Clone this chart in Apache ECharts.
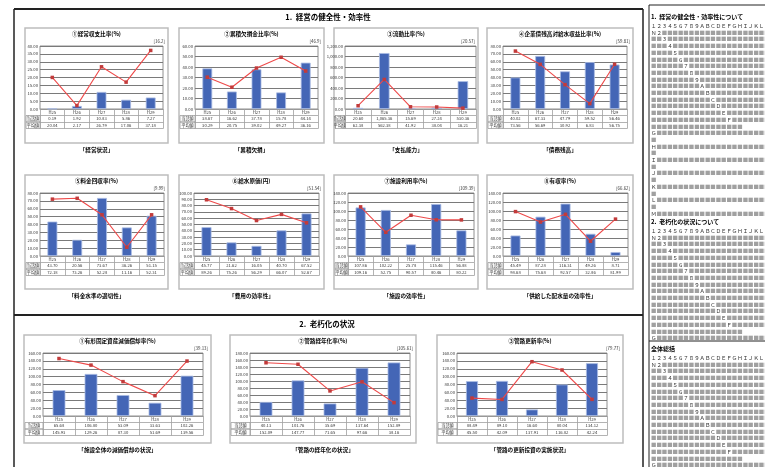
<!DOCTYPE html>
<html>
<head>
<meta charset="utf-8">
<script src="https://cdn.jsdelivr.net/npm/echarts@6/dist/echarts.min.js"></script>
<style>
html, body { margin: 0; padding: 0; background: #fff; }
#main { width: 765px; height: 467px; }
</style>
</head>
<body>
<div id="main"></div>
<script>
var years = ['H25', 'H26', 'H27', 'H28', 'H29'];
var rowNames = ['当該値', '平均値'];

// 1. 経営の健全性・効率性
var keijoVal = [0.19, 1.92, 10.83, 5.86, 7.27];
var keijoAvg = [20.04, 2.17, 26.79, 17.06, 37.18];
var ruisekiVal = [38.67, 16.62, 37.78, 15.78, 44.14];
var ruisekiAvg = [30.29, 20.75, 39.02, 49.27, 36.16];
var ryudoVal = [20.60, 1065.36, 15.69, 27.24, 530.36];
var ryudoAvg = [62.38, 562.38, 41.92, 38.04, 16.21];
var kigyosaiVal = [40.02, 67.33, 47.79, 59.52, 56.46];
var kigyosaiAvg = [73.56, 56.69, 30.92, 6.83, 56.75];
var ryokinVal = [43.70, 20.56, 73.67, 36.26, 51.15];
var ryokinAvg = [72.18, 73.26, 52.28, 11.16, 52.31];
var kyusuiVal = [45.77, 21.62, 16.05, 40.70, 67.52];
var kyusuiAvg = [89.26, 75.26, 56.29, 66.07, 52.67];
var shisetsuVal = [107.86, 102.22, 25.78, 115.46, 56.88];
var shisetsuAvg = [109.16, 52.75, 90.57, 80.46, 80.22];
var yushuVal = [45.49, 87.28, 116.31, 49.26, 8.71];
var yushuAvg = [98.68, 75.68, 92.57, 32.86, 81.99];

// 2. 老朽化の状況
var shokyakuVal = [65.68, 106.80, 53.09, 33.63, 102.26];
var shokyakuAvg = [145.93, 129.26, 87.30, 51.69, 139.56];
var keinenVal = [40.13, 101.76, 35.69, 137.64, 152.89];
var keinenAvg = [152.09, 147.77, 71.65, 97.66, 38.16];
var koshinVal = [88.49, 89.10, 16.60, 80.04, 134.12];
var koshinAvg = [45.50, 42.09, 137.91, 116.82, 42.24];

var FONT = '"Noto Sans CJK JP", "Noto Sans", sans-serif';

var charts = [
    {title: '①経常収支比率(%)', caption: '「経営状況」', note: '[16.2]', val: keijoVal, avg: keijoAvg, max: 40, step: 5, box: [25, 28, 143, 115], gl: 15, gr: 5},
    {title: '②累積欠損金比率(%)', caption: '「累積欠損」', note: '[46.9]', val: ruisekiVal, avg: ruisekiAvg, max: 60, step: 10, box: [179, 28, 145, 115], gl: 16, gr: 6},
    {title: '③流動比率(%)', caption: '「支払能力」', note: '[20.57]', val: ryudoVal, avg: ryudoAvg, max: 1200, step: 200, box: [334, 28, 144, 115], gl: 11, gr: 2},
    {title: '④企業債残高対給水収益比率(%)', caption: '「債務残高」', note: '[59.81]', val: kigyosaiVal, avg: kigyosaiAvg, max: 80, step: 10, box: [487, 28, 146, 115], gl: 16, gr: 6},
    {title: '⑤料金回収率(%)', caption: '「料金水準の適切性」', note: '[9.99]', val: ryokinVal, avg: ryokinAvg, max: 80, step: 10, box: [25, 175, 143, 114], gl: 15, gr: 4},
    {title: '⑥給水原価(円)', caption: '「費用の効率性」', note: '[51.54]', val: kyusuiVal, avg: kyusuiAvg, max: 100, step: 10, box: [179, 175, 145, 114], gl: 15, gr: 5},
    {title: '⑦施設利用率(%)', caption: '「施設の効率性」', note: '[109.39]', val: shisetsuVal, avg: shisetsuAvg, max: 140, step: 20, box: [334, 175, 144, 114], gl: 14, gr: 4},
    {title: '⑧有収率(%)', caption: '「供給した配水量の効率性」', note: '[66.62]', val: yushuVal, avg: yushuAvg, max: 140, step: 20, box: [487, 175, 146, 114], gl: 16, gr: 5},
    {title: '①有形固定資産減価償却率(%)', caption: '「施設全体の減価償却の状況」', note: '[39.13]', val: shokyakuVal, avg: shokyakuAvg, max: 160, step: 20, box: [24, 335, 187, 108], gl: 19, gr: 8},
    {title: '②管路経年化率(%)', caption: '「管路の経年化の状況」', note: '[105.61]', val: keinenVal, avg: keinenAvg, max: 180, step: 20, box: [230, 335, 186, 108], gl: 20, gr: 6},
    {title: '③管路更新率(%)', caption: '「管路の更新投資の実施状況」', note: '[79.77]', val: koshinVal, avg: koshinAvg, max: 160, step: 20, box: [437, 335, 186, 108], gl: 20, gr: 16}
];

function fmt(v) {
    return Number(v).toLocaleString('en-US', {minimumFractionDigits: 2, maximumFractionDigits: 2});
}

var grids = [], xAxes = [], yAxes = [], series = [], graphics = [];
var rowH = 6.5, plotH = 63;

charts.forEach(function (c, i) {
    var bx = c.box[0], by = c.box[1], bw = c.box[2], bh = c.box[3];
    var top = by + 18, bottom = top + plotH;
    grids.push({
        left: bx + c.gl, top: top, width: bw - c.gl - c.gr, height: plotH,
        show: true, borderColor: '#909090', borderWidth: 1
    });
    var rows = [years, c.val.map(fmt), c.avg.map(fmt), years];
    rows.forEach(function (d, k) {
        xAxes.push({
            gridIndex: i, type: 'category', data: d, position: 'bottom', offset: k * rowH,
            axisLine: {show: true, lineStyle: {color: '#a0a0a0', width: 0.8}},
            axisTick: {show: k < 3, length: rowH, interval: 0, lineStyle: {color: '#a0a0a0', width: 0.8}},
            axisLabel: {show: k < 3, interval: 0, fontSize: 4.2, margin: 1.3, color: '#333', fontFamily: FONT},
            splitLine: {show: false}
        });
    });
    yAxes.push({
        gridIndex: i, type: 'value', min: 0, max: c.max, interval: c.step,
        axisLine: {show: false}, axisTick: {show: false},
        axisLabel: {fontSize: 4.2, margin: 2, color: '#333', fontFamily: FONT, formatter: fmt},
        splitLine: {lineStyle: {color: '#7a7a7a', width: 1}}
    });
    series.push({
        type: 'bar', xAxisIndex: i * 4, yAxisIndex: i, data: c.val, barWidth: '40%',
        itemStyle: {color: '#4466b6', borderColor: '#a9bbe3', borderWidth: 0.8}
    });
    series.push({
        type: 'line', xAxisIndex: i * 4, yAxisIndex: i, data: c.avg,
        symbol: 'rect', symbolSize: 3.5,
        lineStyle: {color: '#ee4a4a', width: 1.1},
        itemStyle: {color: '#c23b3b'}
    });

    // chart frame, titles and table row names
    graphics.push({type: 'rect', shape: {x: bx, y: by, width: bw, height: bh},
        style: {fill: null, stroke: '#bdbdbd', lineWidth: 1.5}});
    graphics.push({type: 'text', x: bx + bw / 2, y: by + 6,
        style: {text: c.title, fontSize: 5.6, fontWeight: 'bold', fontFamily: FONT, fill: '#000', align: 'center', verticalAlign: 'middle'}});
    graphics.push({type: 'text', x: bx + bw - 3, y: by + 13,
        style: {text: c.note, fontSize: 4.4, fontFamily: FONT, fill: '#333', align: 'right', verticalAlign: 'middle'}});
    graphics.push({type: 'text', x: bx + bw / 2, y: by + bh + 7,
        style: {text: c.caption, fontSize: 5.6, fontWeight: 'bold', fontFamily: FONT, fill: '#000', align: 'center', verticalAlign: 'middle'}});
    rowNames.forEach(function (n, k) {
        var ry = bottom + rowH * (k + 1);
        graphics.push({type: 'rect', shape: {x: bx + 1, y: ry, width: c.gl - 1, height: rowH},
            style: {fill: null, stroke: '#a0a0a0', lineWidth: 0.8}});
        graphics.push({type: 'text', x: bx + 1 + (c.gl - 1) / 2, y: ry + rowH / 2,
            style: {text: n, fontSize: 4.2, fontFamily: FONT, fill: '#333', align: 'center', verticalAlign: 'middle'}});
    });
});

// outer frame and section headers
graphics.push({type: 'line', shape: {x1: 14, y1: 9, x2: 643, y2: 9}, style: {stroke: '#222', lineWidth: 2}});
graphics.push({type: 'line', shape: {x1: 14, y1: 9, x2: 14, y2: 467}, style: {stroke: '#222', lineWidth: 1.5}});
graphics.push({type: 'line', shape: {x1: 643, y1: 9, x2: 643, y2: 467}, style: {stroke: '#222', lineWidth: 1.5}});
graphics.push({type: 'line', shape: {x1: 14, y1: 315, x2: 643, y2: 315}, style: {stroke: '#222', lineWidth: 2}});
graphics.push({type: 'text', x: 328, y: 17,
    style: {text: '1.  経営の健全性・効率性', fontSize: 7.5, fontWeight: 'bold', fontFamily: FONT, fill: '#000', align: 'center', verticalAlign: 'middle'}});
graphics.push({type: 'text', x: 327, y: 324,
    style: {text: '2.  老朽化の状況', fontSize: 7.5, fontWeight: 'bold', fontFamily: FONT, fill: '#000', align: 'center', verticalAlign: 'middle'}});

// right comment panel (placeholder text)
var CH = 5.4, LH = 6.7;
var digits = '１２３４５６７８９ＡＢＣＤＥＦＧＨＩＪＫＬ';
var stepChars = '３４５６７８９ＡＢＣＤＥＦ';
function boxes(n) { return n > 0 ? '{b|' + '■'.repeat(n) + '}' : ''; }
function panelLines(full) {
    var lines = ['{c|' + digits + '}', '{c|Ｎ２}' + boxes(20)];
    for (var k = 0; k < stepChars.length; k++) {
        lines.push(boxes(k + 2) + '{c|' + stepChars[k] + '}' + boxes(19 - k));
    }
    lines.push(boxes(17));
    lines.push('{c|Ｇ}' + boxes(21));
    if (full) {
        lines.push(boxes(1));
        'ＨＩＪＫＬ'.split('').forEach(function (ch) {
            lines.push('{c|' + ch + '}' + boxes(21));
            lines.push(boxes(1));
        });
        lines.push('{c|Ｍ}' + boxes(21));
    }
    return lines;
}
function addPanel(head, y0, full) {
    graphics.push({type: 'text', x: 651, y: y0,
        style: {text: head, fontSize: 6, fontWeight: 'bold', fontFamily: FONT, fill: '#000', verticalAlign: 'middle'}});
    panelLines(full).forEach(function (t, k) {
        graphics.push({type: 'text', x: 651, y: y0 + 9 + k * LH,
            style: {text: t, fontSize: CH, fontFamily: FONT, verticalAlign: 'middle',
                rich: {b: {fontSize: CH, fontFamily: FONT, fill: '#a0a0a0'}, c: {fontSize: CH, fontFamily: FONT, fill: '#333'}}}});
    });
}
graphics.push({type: 'rect', shape: {x: 649, y: 5, width: 140, height: 470}, style: {fill: null, stroke: '#222', lineWidth: 1}});
graphics.push({type: 'line', shape: {x1: 649, y1: 341, x2: 765, y2: 341}, style: {stroke: '#222', lineWidth: 1}});
addPanel('1.  経営の健全性・効率性について', 17, true);
addPanel('2.  老朽化の状況について', 222, false);
addPanel('全体総括', 349, false);

var chart = echarts.init(document.getElementById('main'));
chart.setOption({
    animation: false,
    grid: grids,
    xAxis: xAxes,
    yAxis: yAxes,
    series: series,
    graphic: graphics
});
</script>
</body>
</html>
